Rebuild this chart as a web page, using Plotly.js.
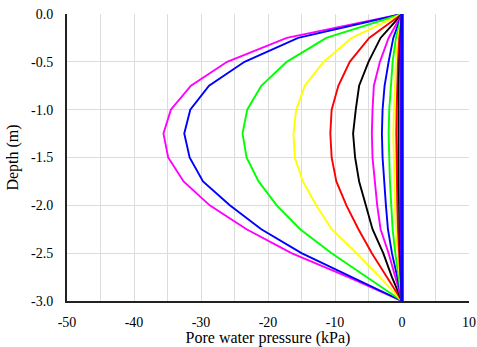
<!DOCTYPE html>
<html>
<head>
<meta charset="utf-8">
<script src="https://cdn.plot.ly/plotly-3.0.1.min.js"></script>
<style>
html,body{margin:0;padding:0;background:#fff;}
#chart{width:477px;height:347px;}
</style>
</head>
<body>
<div id="chart"></div>
<script>
// Depth (m)
const depth = [0, -0.25, -0.5, -0.75, -1.0, -1.25, -1.5, -1.75, -2.0, -2.25, -2.5, -2.75, -3.0];

// Pore water pressure profiles (kPa), one per time step
const p01 = [0, -17.2, -26.1, -31.5, -34.5, -35.6, -34.9, -32.6, -28.7, -23.2, -16.5, -8.0, 0];
const p02 = [0, -15.5, -23.5, -28.8, -31.6, -32.5, -31.7, -29.7, -25.7, -21.0, -15.0, -7.5, 0];
const p03 = [0, -11.3, -17.2, -21.0, -23.1, -23.8, -23.2, -21.4, -18.7, -15.2, -10.5, -5.3, 0];
const p04 = [0, -7.5, -11.7, -14.5, -15.8, -16.2, -16.0, -14.8, -12.8, -10.5, -6.8, -3.3, 0];
const p05 = [0, -4.9, -7.8, -9.5, -10.5, -10.7, -10.5, -9.8, -8.3, -6.5, -4.5, -2.3, 0];
const p06 = [0, -3.2, -5.0, -6.4, -6.9, -7.3, -7.0, -6.4, -5.4, -4.4, -2.8, -1.5, 0];
const p07 = [0, -2.0, -3.3, -4.2, -4.4, -4.5, -4.4, -4.1, -3.7, -3.2, -2.0, -1.0, 0];
const p08 = [0, -1.3, -2.0, -2.6, -2.9, -3.0, -2.9, -2.7, -2.4, -2.1, -1.5, -0.7, 0];
const p09 = [0, -0.9, -1.4, -1.7, -1.9, -2.0, -1.95, -1.8, -1.6, -1.4, -1.0, -0.5, 0];
const p10 = [0, -0.6, -0.9, -1.1, -1.2, -1.3, -1.25, -1.2, -1.05, -0.9, -0.65, -0.35, 0];
const p11 = [0, -0.4, -0.6, -0.75, -0.8, -0.85, -0.82, -0.78, -0.7, -0.6, -0.45, -0.25, 0];
const p12 = [0, -0.25, -0.4, -0.5, -0.53, -0.55, -0.53, -0.5, -0.45, -0.4, -0.3, -0.15, 0];
const p13 = [0, -0.15, -0.22, -0.28, -0.3, -0.32, -0.3, -0.28, -0.25, -0.22, -0.17, -0.08, 0];
const p14 = [0, 0, 0, 0, 0, 0, 0, 0, 0, 0, 0, 0, 0];

const profiles = [p01, p02, p03, p04, p05, p06, p07, p08, p09, p10, p11, p12, p13, p14];
const colors = ['#FF00FF', '#0000FF', '#00FF00', '#FFFF00', '#FF0000', '#000000',
                '#FF00FF', '#0000FF', '#00FF00', '#FFFF00', '#FF0000', '#000000',
                '#FF00FF', '#0000FF'];

const xTickVals = [-50, -40, -30, -20, -10, 0, 10];
const xTickText = ['-50', '-40', '-30', '-20', '-10', '0', '10'];
const yTickVals = [0, -0.5, -1.0, -1.5, -2.0, -2.5, -3.0];
const yTickText = ['0.0', '-0.5', '-1.0', '-1.5', '-2.0', '-2.5', '-3.0'];

const traces = profiles.map((p, i) => ({
  x: p, y: depth, type: 'scatter', mode: 'lines',
  line: {color: colors[i], width: i === profiles.length - 1 ? 3.5 : 1.9},
  hoverinfo: 'skip'
}));

const fam = 'Liberation Serif';

const layout = {
  width: 477, height: 347,
  margin: {l: 67, r: 8, t: 13.5, b: 45.5},
  paper_bgcolor: '#fff', plot_bgcolor: '#fff',
  showlegend: false,
  font: {family: fam, size: 14, color: '#000'},
  xaxis: {
    range: [-50, 10], tickmode: 'array', tickvals: xTickVals, ticktext: xTickText,
    ticks: 'outside', ticklen: 7, tickcolor: 'rgba(0,0,0,0)',
    showgrid: true, gridcolor: '#dcdcdc', gridwidth: 1,
    minor: {dtick: 5, tick0: 0, showgrid: true, gridcolor: '#dcdcdc', gridwidth: 1},
    showline: true, linecolor: '#222', linewidth: 2, zeroline: false,
    tickfont: {family: fam, size: 14, color: '#000'},
    title: {text: 'Pore water pressure (kPa)', font: {family: fam, size: 16, color: '#000'}, standoff: 4}
  },
  yaxis: {
    range: [-3, 0], tickmode: 'array', tickvals: yTickVals, ticktext: yTickText,
    ticks: 'outside', ticklen: 9, tickcolor: 'rgba(0,0,0,0)',
    showgrid: true, gridcolor: '#dcdcdc', gridwidth: 1,
    showline: true, linecolor: '#222', linewidth: 2, zeroline: false,
    tickfont: {family: fam, size: 14, color: '#000'},
    title: {text: 'Depth (m)', font: {family: fam, size: 16, color: '#000'}, standoff: 8}
  }
};

Plotly.newPlot('chart', traces, layout, {displayModeBar: false, staticPlot: true});
</script>
</body>
</html>
